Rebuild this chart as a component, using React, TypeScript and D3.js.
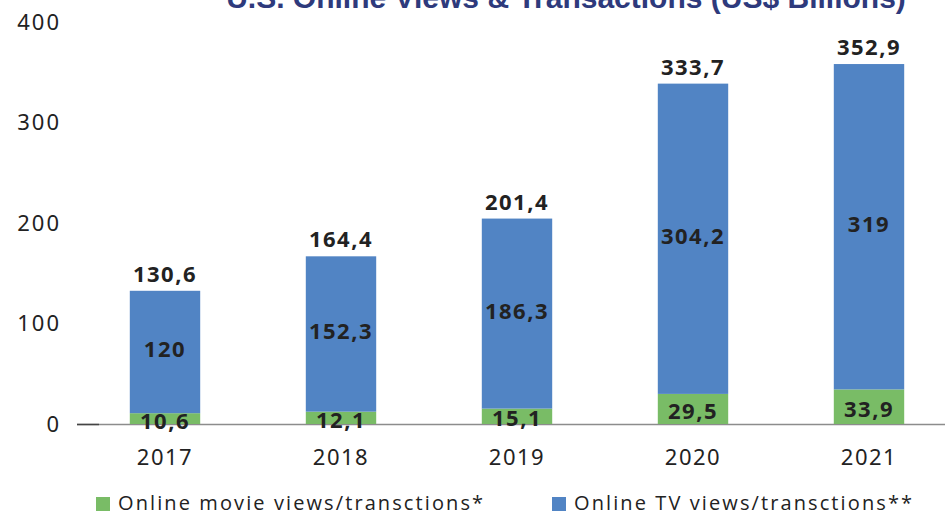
import React from "react";
import * as d3 from "d3";

const years = ["2017", "2018", "2019", "2020", "2021"];
const movieValues = [10.6, 12.1, 15.1, 29.5, 33.9];
const tvValues = [120, 152.3, 186.3, 304.2, 319];
const totalValues = [130.6, 164.4, 201.4, 333.7, 352.9];
const yTicks = [0, 100, 200, 300, 400];
const seriesNames = ["Online movie views/transctions*", "Online TV views/transctions**"];
const seriesColors = ["#79BC66", "#5184C4"];
const title = "U.S. Online Views & Transactions (US$ Billions)";

const W = 945;
const H = 517;
const fmt = (v: number) => String(v).replace(".", ",");
const labelFont = "'Noto Sans', 'Open Sans', sans-serif";

export default function App() {
  const x = d3.scaleBand<string>().domain(years).range([77, 957]).paddingInner(0.6).paddingOuter(0.3);
  const y = d3.scaleLinear().domain([0, 400]).range([424, 16]);
  const bw = x.bandwidth();

  return (
    <svg width={W} height={H} style={{ position: "absolute", left: 0, top: 0, background: "#fff" }}>
      <text x={566} y={8} textAnchor="middle" fontFamily="'Liberation Sans', Arial, sans-serif" fontWeight="bold" fontSize={30} fill="#2E3A7C">
        {title}
      </text>
      {yTicks.map((t) => (
        <text key={t} x={61} y={y(t) + (t / 400) * 6} dy="0.36em" textAnchor="end" fontFamily={labelFont} fontSize={22} letterSpacing={2} fill="#222">
          {t}
        </text>
      ))}
      <line x1={77} x2={945} y1={y(0) + 0.5} y2={y(0) + 0.5} stroke="#8c8c8c" strokeWidth={1.5} />
      <line x1={77} x2={99} y1={y(0) + 0.5} y2={y(0) + 0.5} stroke="#444" strokeWidth={1.5} />
      {years.map((yr, i) => {
        const x0 = x(yr)!;
        const cx = x0 + bw / 2;
        const m = movieValues[i];
        const tv = tvValues[i];
        return (
          <g key={yr}>
            <rect x={x0} y={y(m)} width={bw} height={y(0) - y(m)} fill={seriesColors[0]} />
            <rect x={x0} y={y(m + tv)} width={bw} height={y(m) - y(m + tv)} fill={seriesColors[1]} />
            <text x={cx} y={(y(0) + y(m)) / 2 + 2} dy="0.36em" textAnchor="middle" fontFamily={labelFont} fontWeight="bold" fontSize={22} letterSpacing={1.5} fill="#222">
              {fmt(m)}
            </text>
            <text x={cx} y={(y(m) + y(m + tv)) / 2 - 3} dy="0.36em" textAnchor="middle" fontFamily={labelFont} fontWeight="bold" fontSize={22} letterSpacing={1.5} fill="#222">
              {fmt(tv)}
            </text>
            <text x={cx} y={y(totalValues[i]) - 9} textAnchor="middle" fontFamily={labelFont} fontWeight="bold" fontSize={22} letterSpacing={1.5} fill="#222">
              {fmt(totalValues[i])}
            </text>
            <text x={cx} y={457} dy="0.36em" textAnchor="middle" fontFamily={labelFont} fontSize={22} letterSpacing={1.5} fill="#222">
              {yr}
            </text>
          </g>
        );
      })}
      {seriesNames.map((s, i) => {
        const lx = i === 0 ? 96 : 552;
        return (
          <g key={s}>
            <rect x={lx} y={497} width={14} height={14} fill={seriesColors[i]} />
            <text x={lx + 22} y={503} dy="0.36em" fontFamily="'Open Sans', sans-serif" fontSize={20} letterSpacing={2.1} fill="#222">
              {s}
            </text>
          </g>
        );
      })}
    </svg>
  );
}
